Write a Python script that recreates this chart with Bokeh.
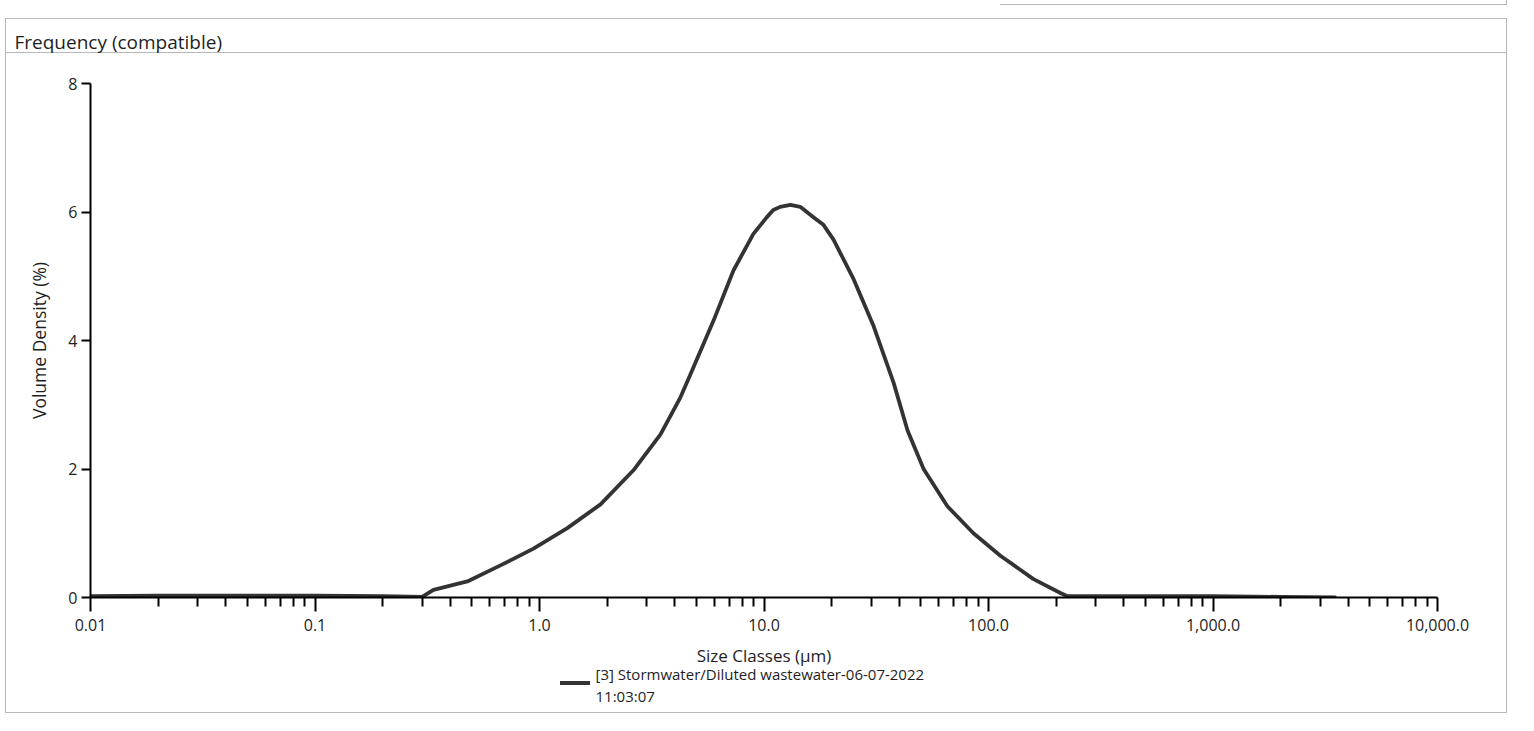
import numpy as np
from bokeh.plotting import figure
from bokeh.models import FixedTicker, CustomJSTickFormatter, Range1d, Title
from bokeh.embed import file_html
from bokeh.resources import INLINE

# ---------------- data ----------------
size_um = [0.01, 0.02, 0.05, 0.1, 0.2, 0.3, 0.337, 0.477, 0.67, 0.94, 1.33, 1.87,
           2.62, 3.46, 4.25, 4.71, 5.96, 7.31, 8.97, 10.3, 11.0, 11.8, 13.1, 14.5,
           16.6, 18.4, 20.4, 25.1, 30.8, 37.8, 43.6, 51.4, 65.6, 85.7, 113.0, 158.0,
           209.0, 225.0, 500.0, 1000.0, 2000.0, 3500.0]
volume_density = [0.02, 0.03, 0.03, 0.03, 0.02, 0.01, 0.12, 0.25, 0.50, 0.76, 1.08, 1.45,
                  1.98, 2.54, 3.12, 3.48, 4.31, 5.09, 5.66, 5.92, 6.03, 6.08, 6.11, 6.08,
                  5.92, 5.80, 5.57, 4.95, 4.22, 3.34, 2.60, 2.00, 1.42, 1.00, 0.65, 0.29,
                  0.07, 0.02, 0.02, 0.02, 0.01, 0.0]
series_name = "[3] Stormwater/Diluted wastewater-06-07-2022"
series_time = "11:03:07"

x_ticks = [0.01, 0.1, 1.0, 10.0, 100.0, 1000.0, 10000.0]
x_tick_labels = ["0.01", "0.1", "1.0", "10.0", "100.0", "1,000.0", "10,000.0"]
y_ticks = [0, 2, 4, 6, 8]
x_minor_ticks = [m * 10.0 ** e for e in range(-2, 4) for m in range(2, 10)]

panel_title = "Frequency (compatible)"
x_title = "Size Classes (\u00b5m)"
y_title = "Volume Density (%)"

# ---------------- layout ----------------
W, H = 1534, 731
FL, FR, FT, FB = 90, 1437, 83, 597   # frame edges in canvas pixels
FONT = "Open Sans"
INK = "#1e1e1e"
RULE = "#b8b8b8"
LINE = "#333333"

# thin grey rules of the report panel and the legend swatch
# (page decoration, drawn by CSS behind the transparent canvas)
rules = [(5, 18, 1502, 1, RULE), (5, 52, 1502, 1, RULE), (5, 712, 1502, 1, RULE),
         (5, 18, 1, 695, RULE), (1506, 18, 1, 695, RULE), (1000, 4, 507, 1, RULE),
         (1506, 0, 1, 5, RULE), (560, 681, 30, 4, LINE)]
css = {
    "background-color": "white",
    "background-image": ", ".join(f"linear-gradient({c}, {c})" for (*_, c) in rules),
    "background-size": ", ".join(f"{w}px {h}px" for (_, _, w, h, _) in rules),
    "background-position": ", ".join(f"{x}px {y}px" for (x, y, _, _, _) in rules),
    "background-repeat": "no-repeat",
}

p = figure(width=W, height=H, x_axis_type="log",
           x_range=Range1d(0.01, 10000), y_range=Range1d(0, 8),
           output_backend="svg", toolbar_location=None,
           title=panel_title,
           min_border_left=FL, min_border_right=W - FR,
           min_border_top=FT, min_border_bottom=H - FB,
           styles=css)
p.border_fill_color = None
p.background_fill_color = None
p.xgrid.visible = False
p.ygrid.visible = False
p.outline_line_color = None

p.title.align = "left"
p.title.vertical_align = "top"
p.title.offset = -(FL - 14)
p.title.standoff = 54
p.title.text_font = FONT
p.title.text_font_size = "19px"
p.title.text_font_style = "normal"
p.title.text_color = INK

# x axis
xa = p.xaxis[0]
xa.ticker = FixedTicker(ticks=x_ticks, minor_ticks=x_minor_ticks)
xa.formatter = CustomJSTickFormatter(args=dict(vals=x_ticks, labs=x_tick_labels), code="""
    for (let i = 0; i < vals.length; i++) {
        if (Math.abs(Math.log10(vals[i]) - Math.log10(tick)) < 1e-6) return labs[i];
    }
    return "";
""")
xa.axis_label = x_title
ya = p.yaxis[0]
ya.ticker = FixedTicker(ticks=y_ticks)
ya.axis_label = y_title

for ax in (xa, ya):
    ax.axis_line_color = "black"
    ax.axis_line_width = 2
    ax.major_tick_line_color = "black"
    ax.major_tick_line_width = 2
    ax.major_tick_in = 0
    ax.minor_tick_in = 0
    ax.major_label_text_font = FONT
    ax.major_label_text_font_size = "16px"
    ax.major_label_text_color = INK
    ax.axis_label_text_font = FONT
    ax.axis_label_text_font_style = "normal"
    ax.axis_label_text_color = INK

xa.major_tick_out = 14
xa.minor_tick_out = 9
xa.minor_tick_line_color = "black"
xa.minor_tick_line_width = 2
xa.major_label_standoff = 7
xa.axis_label_text_font_size = "17px"
xa.axis_label_standoff = 10

ya.major_tick_out = 9
ya.minor_tick_line_color = None
ya.major_label_standoff = 4
ya.axis_label_text_font_size = "17.5px"
ya.axis_label_standoff = 14

r = p.line(size_um, volume_density, line_color=LINE, line_width=3.8,
           line_join="round", line_cap="round")

# legend text (two lines) beside the swatch
for txt, so in ((series_name, -16), (series_time, 16)):
    p.add_layout(Title(text=txt, align="left", offset=595 - FL, standoff=so,
                       text_font=FONT, text_font_size="15px", text_font_style="normal",
                       text_color=INK), "below")

open("out.html", "w").write(file_html(p, INLINE))
